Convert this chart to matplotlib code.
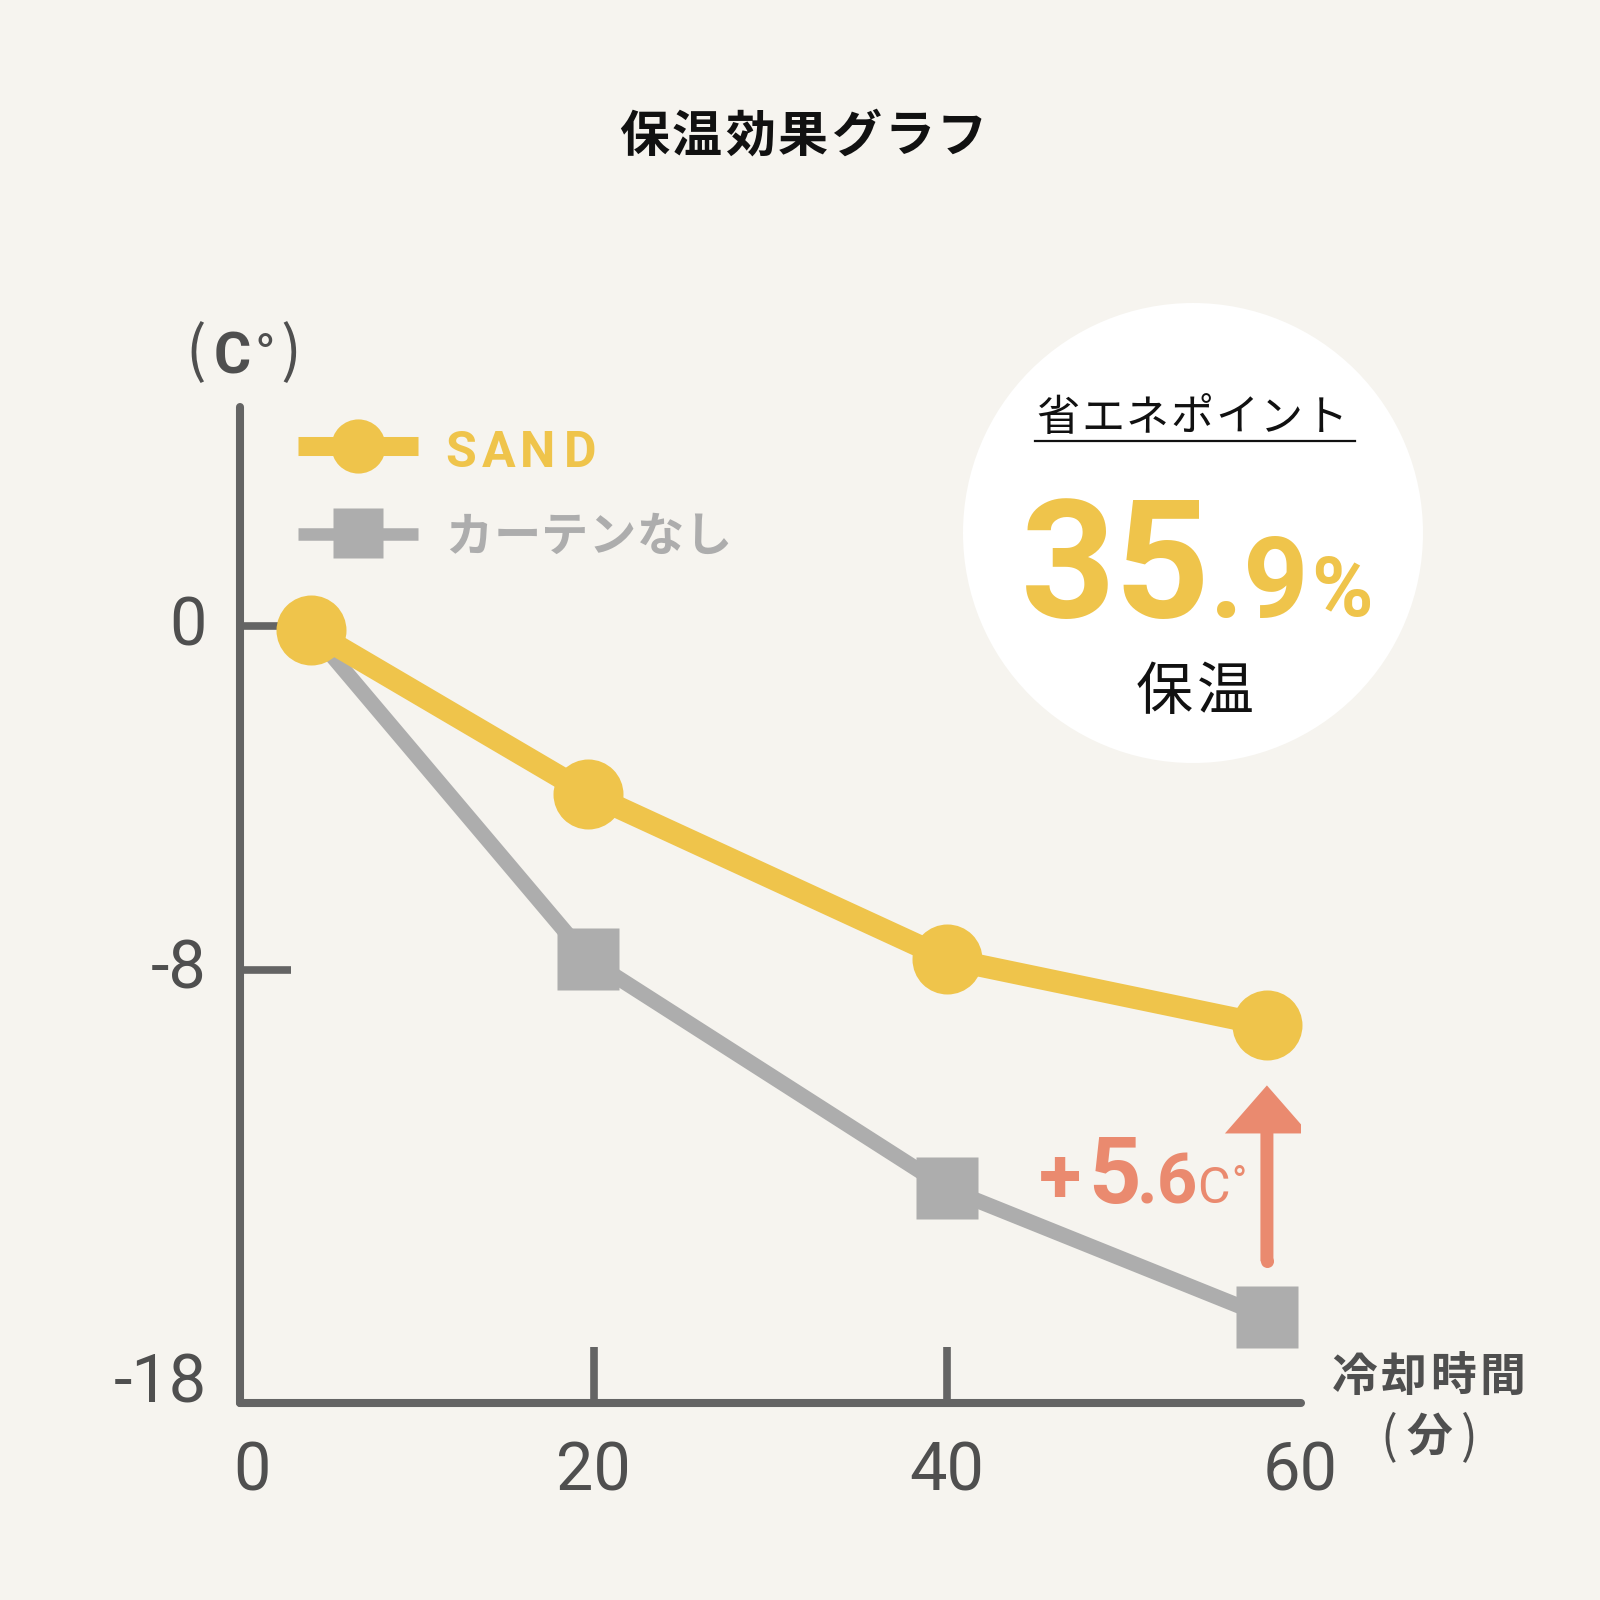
import matplotlib
matplotlib.use('Agg')
import matplotlib.pyplot as plt
from matplotlib import font_manager as fm
from matplotlib.lines import Line2D
from matplotlib.patches import Circle
from matplotlib.transforms import ScaledTranslation

# ---------------- data ----------------
time_sand = [4.0, 19.7, 40.0, 58.1]
temp_sand = [-0.1, -3.9, -7.75, -9.3]
time_none = [4.0, 19.7, 40.0, 58.1]
temp_none = [-0.1, -7.75, -13.1, -16.1]
x_ticks = [0, 20, 40, 60]
x_tick_labels = ['0', '20', '40', '60']
y_ticks = [0, -8, -18]
y_tick_labels = ['0', '-8', '-18']
series_names = ['SAND', 'カーテンなし']
title = '保温効果グラフ'
y_unit = ['（', 'C', '°', '）']
x_label_1 = '冷却時間'
x_label_2 = ['（', '分', '）']
saving_head = '省エネポイント'
saving_int = '35'
saving_dec = '.9'
saving_pct = '%'
saving_tail = '保温'
diff_parts = ['+', '5', '.6', 'C', '°']
arrow_from = -14.8
arrow_to = -10.7

# ---------------- style ----------------
BG = '#F6F4EF'
YEL = '#EFC44B'
GRAY = '#ADADAD'
SALMON = '#EA8A6F'
AXC = '#646464'
TXT = '#4F4F4F'


def pick(cands):
    for c in cands:
        try:
            fm.findfont(fm.FontProperties(family=c), fallback_to_default=False)
            return c
        except Exception:
            pass
    return 'DejaVu Sans'


NARROW = pick(['Liberation Sans Narrow', 'Roboto', 'DejaVu Sans'])
SANS = pick(['Roboto', 'Lato', 'DejaVu Sans'])
CJK = ['Noto Sans CJK JP', 'DejaVu Sans']

W = H = 1600
fig = plt.figure(figsize=(16, 16), dpi=100, facecolor=BG)


def fx(px):
    return px / W


def fy(py):
    return 1 - py / H


def put(px, py, s, **kw):
    return fig.text(fx(px), fy(py), s, **kw)


def spaced(chars, cx0, pitch, py, **kw):
    for i, ch in enumerate(chars):
        put(cx0 + i * pitch, py, ch, ha='center', **kw)


# ---------------- axes ----------------
ax = fig.add_axes([240 / W, (H - 1403) / H, 1060.5 / W, (1403 - 407.3) / H])
ax.set_facecolor('none')
ax.set_xlim(0, 60)
ax.set_ylim(-18.1, 5.1)

ax.plot(time_none, temp_none, color=GRAY, lw=11, marker='s', ms=44,
        markevery=[1, 2, 3], mec='none', solid_joinstyle='round',
        zorder=3, clip_on=False)
ax.plot(time_sand, temp_sand, color=YEL, lw=16, marker='o', ms=50.4,
        mec='none', solid_joinstyle='round', zorder=4, clip_on=False)

# difference arrow
ax.arrow(time_sand[-1], arrow_from, 0, arrow_to - arrow_from,
         width=13 / 17.675, head_width=84 / 17.675, head_length=48 / 42.875,
         length_includes_head=True, color=SALMON, lw=0, zorder=5)
ax.plot([time_sand[-1]], [arrow_from], 'o', ms=13 * 0.72, color=SALMON,
        mec='none', zorder=5)

for s in ['top', 'right']:
    ax.spines[s].set_visible(False)
for s in ['left', 'bottom']:
    ax.spines[s].set_linewidth(5.8)
    ax.spines[s].set_color(AXC)
    ax.spines[s].set_capstyle('round')

ax.set_xticks(x_ticks, x_tick_labels)
ax.set_yticks(y_ticks, y_tick_labels)
ax.tick_params(axis='y', direction='in', length=37, width=5.5, color=AXC,
               pad=24, labelsize=48, labelcolor=TXT)
ax.tick_params(axis='x', direction='in', length=40, width=5.5, color=AXC,
               pad=27, labelsize=48, labelcolor=TXT)
for lab in ax.get_xticklabels() + ax.get_yticklabels():
    lab.set_fontfamily([NARROW, 'DejaVu Sans'])
for t in ax.xaxis.get_major_ticks():
    if t.get_loc() in (0, 60):
        t.tick1line.set_visible(False)
for t in ax.yaxis.get_major_ticks():
    dy = 0.06
    if t.get_loc() == -18:
        t.tick1line.set_visible(False)
        dy = 0.21
    t.label1.set_transform(t.label1.get_transform() +
                           ScaledTranslation(0, dy, fig.dpi_scale_trans))
for t in ax.xaxis.get_major_ticks():
    if t.get_loc() == 0:
        t.label1.set_transform(t.label1.get_transform() +
                               ScaledTranslation(0.12, 0, fig.dpi_scale_trans))

# ---------------- title ----------------
spaced(title, 803 - 3 * 53, 53, 137, va='center', fontsize=36,
       fontweight='bold', family=CJK, color='#111111')

# ---------------- y unit ----------------
put(196, 354, '(', ha='center', va='center', fontsize=44, family=CJK, color=TXT)
put(232, 373, y_unit[1], ha='center', va='baseline', fontsize=41,
    fontweight='bold', family=SANS, color=TXT)
put(265, 373, y_unit[2], ha='center', va='baseline', fontsize=40,
    family=SANS, color=TXT)
put(291, 354, ')', ha='center', va='center', fontsize=44, family=CJK, color=TXT)

# ---------------- legend ----------------
fig.add_artist(Line2D([fx(298), fx(418)], [fy(446), fy(446)], lw=13.7,
                      color=YEL, solid_capstyle='butt'))
fig.add_artist(Line2D([fx(358)], [fy(446)], marker='o', ms=39, color=YEL,
                      mec='none', lw=0))
fig.add_artist(Line2D([fx(298), fx(418)], [fy(534), fy(534)], lw=9,
                      color=GRAY, solid_capstyle='butt'))
fig.add_artist(Line2D([fx(358)], [fy(533)], marker='s', ms=36, color=GRAY,
                      mec='none', lw=0))
for ch, cx in zip(series_names[0], [461, 499, 538, 580]):
    put(cx, 467, ch, ha='center', va='baseline', fontsize=36,
        fontweight='bold', family=SANS, color=YEL)
spaced(series_names[1], 469, 47.8, 537, va='center', fontsize=34,
       fontweight='bold', family=CJK, color=GRAY)

# ---------------- callout circle ----------------
fig.add_artist(Circle((fx(1193), fy(533)), 230 / W, transform=fig.transFigure,
                      facecolor='white', edgecolor='none', zorder=0))
spaced(saving_head, 1058, 44.7, 419, va='center', fontsize=31,
       family=CJK, color='#111111')
fig.add_artist(Line2D([fx(1035), fx(1355)], [fy(441), fy(441)], lw=1.6,
                      color='#111111'))
put(1021, 617, saving_int, ha='left', va='baseline', fontsize=119,
    fontweight='bold', family=SANS, color=YEL)
put(1210, 617, saving_dec, ha='left', va='baseline', fontsize=82,
    fontweight='bold', family=SANS, color=YEL)
put(1311, 616, saving_pct, ha='left', va='baseline', fontsize=60,
    fontweight='bold', family=SANS, color=YEL)
spaced(saving_tail, 1164, 61, 693, va='center', fontsize=41,
       family=CJK, color='#111111')

# ---------------- difference label ----------------
put(1039, 1203, diff_parts[0], ha='left', va='baseline', fontsize=56,
    fontweight='bold', family=SANS, color=SALMON)
put(1088, 1203, diff_parts[1], ha='left', va='baseline', fontsize=66,
    fontweight='bold', family=SANS, color=SALMON)
put(1137, 1203, diff_parts[2], ha='left', va='baseline', fontsize=51,
    fontweight='bold', family=SANS, color=SALMON)
put(1197, 1203, diff_parts[3], ha='left', va='baseline', fontsize=36,
    family=SANS, color=SALMON)
put(1231, 1195, diff_parts[4], ha='left', va='baseline', fontsize=29,
    family=SANS, color=SALMON)

# ---------------- x label ----------------
spaced(x_label_1, 1355, 49, 1378, va='center', fontsize=33,
       fontweight='bold', family=CJK, color=TXT)
put(1389, 1438, '(', ha='center', va='center', fontsize=36, family=CJK, color=TXT)
put(1429, 1438, x_label_2[1], ha='center', va='center', fontsize=33,
    fontweight='bold', family=CJK, color=TXT)
put(1469, 1438, ')', ha='center', va='center', fontsize=36, family=CJK, color=TXT)

fig.savefig('out.png', dpi=100, facecolor=BG)
